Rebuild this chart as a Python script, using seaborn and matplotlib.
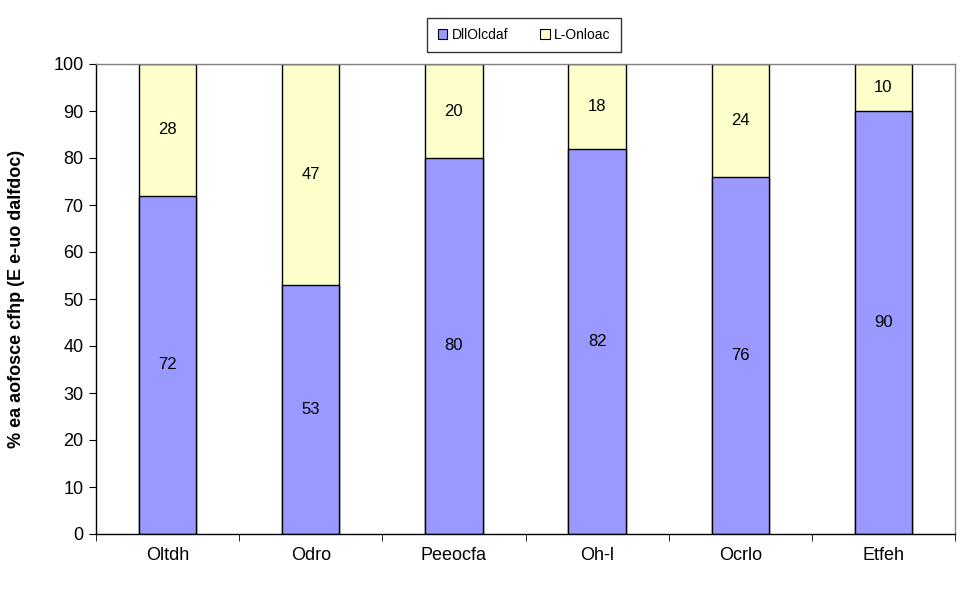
import numpy as np
import pandas as pd
from matplotlib import pyplot as plt
from matplotlib.patches import Patch
import seaborn as sns

categories = ['Oltdh', 'Odro', 'Peeocfa', 'Oh-l', 'Ocrlo', 'Etfeh']
lower_vals = [72, 53, 80, 82, 76, 90]
upper_vals = [28, 47, 20, 18, 24, 10]
series_names = ['DllOlcdaf', 'L-Onloac']
blue = '#9999FF'
yellow = '#FFFFCC'

sns.set_style('white')
plt.rcParams['font.family'] = ['Liberation Sans', 'DejaVu Sans']
plt.rcParams['text.color'] = 'black'
plt.rcParams['axes.labelcolor'] = 'black'
plt.rcParams['xtick.color'] = 'black'
plt.rcParams['ytick.color'] = 'black'

df = pd.DataFrame({'cat': categories, 'lower': lower_vals, 'upper': upper_vals})
df['total'] = df['lower'] + df['upper']

fig = plt.figure(figsize=(9.66, 5.9), dpi=100)
ax = fig.add_axes([96 / 966, 56 / 590, (955 - 96) / 966, (534 - 64) / 590])

sns.barplot(data=df, x='cat', y='total', color=yellow, saturation=1, width=0.4,
            edgecolor='black', linewidth=1, ax=ax)
sns.barplot(data=df, x='cat', y='lower', color=blue, saturation=1, width=0.4,
            edgecolor='black', linewidth=1, ax=ax)

for i, row in df.iterrows():
    ax.text(i, row['lower'] / 2, f"{row['lower']}", ha='center', va='center', fontsize=12)
    ax.text(i, row['lower'] + row['upper'] / 2, f"{row['upper']}", ha='center', va='center', fontsize=12)

ax.set_xlim(-0.5, len(categories) - 0.5)
ax.set_ylim(0, 100)
ax.set_yticks(range(0, 101, 10))
ax.set_xlabel('')
ax.set_ylabel('% ea aofosce cfhp (E e-uo dalfdoc)', fontsize=13, fontweight='bold', labelpad=20)

ax.set_xticks(range(len(categories)))
ax.set_xticklabels(categories, fontsize=13)
ax.set_xticks(np.arange(-0.5, len(categories), 1), minor=True)
ax.tick_params(axis='x', which='major', length=0, pad=9)
ax.tick_params(axis='x', which='minor', length=5, color='black', bottom=True)
ax.tick_params(axis='y', length=5, color='black', left=True, labelsize=13, pad=4)

for side in ['left', 'bottom']:
    ax.spines[side].set_color('black')
    ax.spines[side].set_linewidth(1)
for side in ['top', 'right']:
    ax.spines[side].set_color('#808080')
    ax.spines[side].set_linewidth(1)

handles = [Patch(facecolor=blue, edgecolor='black', linewidth=0.8),
           Patch(facecolor=yellow, edgecolor='black', linewidth=0.8)]
leg = fig.legend(handles, series_names, loc='center', bbox_to_anchor=(524 / 966, 1 - 35 / 590),
                 ncol=2, frameon=True, fancybox=False, fontsize=10, handlelength=0.7,
                 handleheight=0.7, handletextpad=0.3, columnspacing=2.3, borderpad=0.75)
leg.get_frame().set_edgecolor('black')
leg.get_frame().set_linewidth(1)

fig.savefig('out.png', dpi=100)
